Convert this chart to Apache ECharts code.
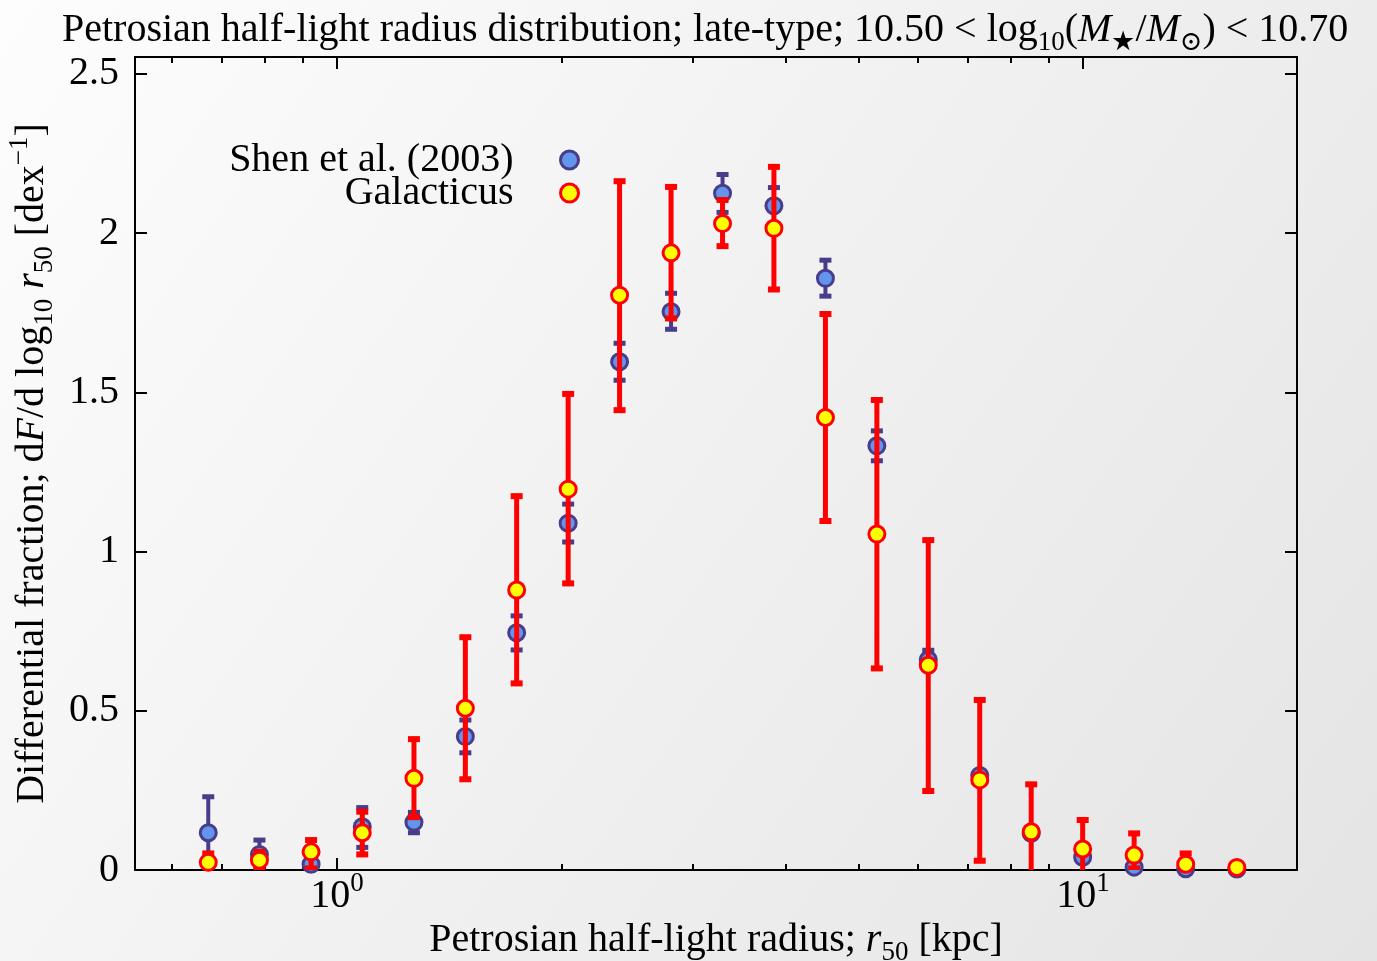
<!DOCTYPE html>
<html>
<head>
<meta charset="utf-8">
<title>Petrosian half-light radius distribution</title>
<script src="https://cdn.jsdelivr.net/npm/echarts@6/dist/echarts.min.js"></script>
<style>
  html, body { margin: 0; padding: 0; }
  #chart { width: 1377px; height: 961px; }
</style>
</head>
<body>
<div id="chart"></div>
<script>
// Bin centres of the half-light radius, kpc
const radius = [0.672, 0.787, 0.923, 1.081, 1.268, 1.486, 1.741, 2.041, 2.392, 2.804,
  3.287, 3.852, 4.516, 5.293, 6.203, 7.271, 8.523, 9.99, 11.71, 13.73, 16.08];

// Shen et al. (2003): value and lower/upper error bounds
const shenValue = [0.117, 0.049, 0.018, 0.136, 0.150, 0.419, 0.745, 1.089, 1.596, 1.753,
  2.125, 2.086, 1.858, 1.332, 0.660, 0.297, 0.115, 0.040, 0.009, 0.004, 0.003];
const shenLow = [0.004, 0.004, 0.004, 0.071, 0.117, 0.368, 0.691, 1.030, 1.538, 1.698,
  2.065, 2.030, 1.802, 1.285, 0.630, 0.283, 0.100, 0.030, 0.004, 0.002, 0.001];
const shenHigh = [0.230, 0.094, 0.032, 0.196, 0.181, 0.471, 0.798, 1.149, 1.654, 1.811,
  2.184, 2.143, 1.915, 1.379, 0.690, 0.310, 0.130, 0.050, 0.014, 0.006, 0.005];

// Galacticus model: value and lower/upper error bounds
const galValue = [0.024, 0.031, 0.057, 0.117, 0.288, 0.508, 0.879, 1.196, 1.805, 1.938,
  2.030, 2.015, 1.421, 1.055, 0.643, 0.283, 0.120, 0.066, 0.047, 0.018, 0.008];
const galLow = [-0.010, 0.000, 0.005, 0.049, 0.166, 0.285, 0.586, 0.900, 1.444, 1.732,
  1.959, 1.823, 1.096, 0.633, 0.248, 0.029, -0.050, -0.030, 0.005, -0.010, 0.002];
const galHigh = [0.052, 0.057, 0.094, 0.183, 0.411, 0.731, 1.174, 1.495, 2.163, 2.145,
  2.104, 2.208, 1.746, 1.476, 1.036, 0.534, 0.269, 0.157, 0.115, 0.052, 0.016];

// Axis ranges and ticks (x in kpc, drawn on a log10 scale)
const xRange = [0.536, 19.36];
const yRange = [0, 2.553];
const xMajorTicks = [1, 10];
const xMinorTicks = [0.6, 0.7, 0.8, 0.9, 2, 3, 4, 5, 6, 7, 8, 9];
const yTicks = [0, 0.5, 1, 1.5, 2, 2.5];

const FONT = "'Liberation Serif', 'DejaVu Serif', 'Times New Roman', serif";
const FS = 40;
const LH = 52;
const BLUE_EDGE = '#483D8B';
const BLUE_FILL = '#6495ED';
const RED = '#FF0000';
const YELLOW = '#FFFF00';

const lg = Math.log10;
const shenPoints = radius.map((r, i) => [lg(r), shenValue[i]]);
const shenBars = radius.map((r, i) => [lg(r), shenLow[i], shenHigh[i]]);
const galPoints = radius.map((r, i) => [lg(r), galValue[i]]);
const galBars = radius.map((r, i) => [lg(r), galLow[i], galHigh[i]]);

const rich = {
  i: { fontFamily: FONT, fontSize: FS, fontStyle: 'italic', lineHeight: LH },
  n: { fontFamily: FONT, fontSize: FS, lineHeight: LH },
  sub: { fontFamily: FONT, fontSize: 27, verticalAlign: 'bottom', lineHeight: LH },
  sup: { fontFamily: FONT, fontSize: 27, verticalAlign: 'top', lineHeight: LH }
};

// Vertical error bar with a cap at each end
function errorBar(color, lineWidth, capHalf, capWidth) {
  return function (params, api) {
    const x = api.value(0);
    const top = api.coord([x, api.value(2)]);
    const bot = api.coord([x, api.value(1)]);
    return {
      type: 'group',
      children: [
        { type: 'line', shape: { x1: top[0], y1: top[1], x2: bot[0], y2: bot[1] },
          style: { stroke: color, lineWidth: lineWidth } },
        { type: 'line', shape: { x1: top[0] - capHalf, y1: top[1], x2: top[0] + capHalf, y2: top[1] },
          style: { stroke: color, lineWidth: capWidth } },
        { type: 'line', shape: { x1: bot[0] - capHalf, y1: bot[1], x2: bot[0] + capHalf, y2: bot[1] },
          style: { stroke: color, lineWidth: capWidth } }
      ]
    };
  };
}

function xAxisDef(position, ticks, tickLen, showLine, showLabels) {
  return {
    type: 'value', position: position,
    min: lg(xRange[0]), max: lg(xRange[1]),
    splitLine: { show: false },
    axisLine: { show: showLine, onZero: false, lineStyle: { color: '#000', width: 2 } },
    axisTick: { show: true, inside: true, length: tickLen, customValues: ticks.map(lg),
      lineStyle: { color: '#000', width: 2 } },
    axisLabel: showLabels ? {
      show: true, customValues: ticks.map(lg), margin: 0,
      formatter: v => '{n|10}{sup|' + Math.round(v) + '}', rich: rich, color: '#000'
    } : { show: false },
    name: showLabels ? 'Petrosian half-light radius; {i|r}{sub|50} [kpc]' : '',
    nameLocation: 'middle', nameGap: 41,
    nameTextStyle: { fontFamily: FONT, fontSize: FS, color: '#000', rich: rich }
  };
}

function yAxisDef(position, showLabels) {
  return {
    type: 'value', position: position,
    min: yRange[0], max: yRange[1],
    splitLine: { show: false },
    axisLine: { show: true, onZero: false, lineStyle: { color: '#000', width: 2 } },
    axisTick: { show: true, inside: true, length: 12, customValues: yTicks,
      lineStyle: { color: '#000', width: 2 } },
    axisLabel: showLabels ? {
      show: true, customValues: yTicks, margin: 16,
      fontFamily: FONT, fontSize: FS, color: '#000'
    } : { show: false },
    name: showLabels ? 'Differential fraction; d{i|F}/d log{sub|10} {i|r}{sub|50} [dex{sup|−1}]' : '',
    nameLocation: 'middle', nameGap: 63, nameRotate: 90,
    nameTextStyle: { fontFamily: FONT, fontSize: FS, color: '#000', rich: rich }
  };
}

const chart = echarts.init(document.getElementById('chart'), null, { renderer: 'canvas' });
chart.setOption({
  animation: false,
  backgroundColor: {
    type: 'linear', x: 0, y: 0, x2: 1, y2: 1,
    colorStops: [{ offset: 0, color: '#fdfdfd' }, { offset: 1, color: '#e4e4e4' }]
  },
  title: {
    text: 'Petrosian half-light radius distribution; late-type; 10.50 < log{sub|10}({i|M}{sub|★}/{i|M}{sub|⊙}) < 10.70',
    left: 62, top: 4, padding: 0,
    textStyle: { fontFamily: FONT, fontSize: FS, fontWeight: 'normal', color: '#000', rich: rich }
  },
  grid: { left: 135, right: 80, top: 57, bottom: 91, containLabel: false, outerBoundsMode: 'none' },
  legend: {
    orient: 'vertical', align: 'right', right: 797, top: 140, itemGap: -7, padding: 0,
    itemWidth: 18, itemHeight: 18, selectedMode: false,
    textStyle: { fontFamily: FONT, fontSize: FS, color: '#000', padding: [0, 42, 0, 0] },
    itemStyle: { borderWidth: 3 },
    data: ['Shen et al. (2003)', 'Galacticus']
  },
  xAxis: [
    xAxisDef('bottom', xMajorTicks, 12, true, true),
    xAxisDef('bottom', xMinorTicks, 6, false, false),
    xAxisDef('top', xMajorTicks, 12, true, false),
    xAxisDef('top', xMinorTicks, 6, false, false)
  ],
  yAxis: [
    yAxisDef('left', true),
    yAxisDef('right', false)
  ],
  series: [
    {
      name: 'Shen et al. (2003) errors', type: 'custom', clip: true,
      renderItem: errorBar(BLUE_EDGE, 4, 6, 5), data: shenBars, z: 2
    },
    {
      name: 'Shen et al. (2003)', type: 'scatter', data: shenPoints, symbol: 'circle', symbolSize: 16,
      itemStyle: { color: BLUE_FILL, borderColor: BLUE_EDGE, borderWidth: 3, opacity: 1 }, z: 3
    },
    {
      name: 'Galacticus errors', type: 'custom', clip: true,
      renderItem: errorBar(RED, 5, 6, 6), data: galBars, z: 4
    },
    {
      name: 'Galacticus', type: 'scatter', data: galPoints, symbol: 'circle', symbolSize: 16,
      itemStyle: { color: YELLOW, borderColor: RED, borderWidth: 3, opacity: 1 }, z: 5
    }
  ]
});
</script>
</body>
</html>
